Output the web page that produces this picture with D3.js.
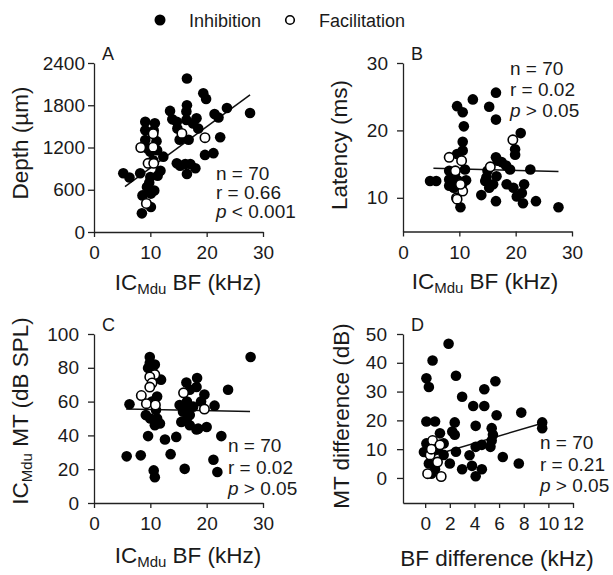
<!DOCTYPE html>
<html>
<head>
<meta charset="utf-8">
<script src="https://cdn.jsdelivr.net/npm/d3@7"></script>
<style>
	body { margin: 0; background: #fff; }
	svg text { font-family: "Liberation Sans", Arial, sans-serif; fill: #1a1a1a; }
	.axis path, .axis line { stroke: #222; stroke-width: 1.3; }
	.axis text { font-size: 19px; }
</style>
</head>
<body>
<svg id="graphic" width="613" height="575"></svg>
<script>
// Panel A: IC_Mdu BF (kHz) vs depth (um)
const aInhibition = [
	[16.5, 2180], [19.4, 1970], [19.9, 1890], [13.5, 1720], [16.5, 1800], [16.4, 1710], [23.6, 1760], [27.7, 1690],
	[21.4, 1675], [22.1, 1625], [18.2, 1615], [14.7, 1565], [16.4, 1590], [18.5, 1470], [14.8, 1470], [16.8, 1310],
	[15.2, 1310], [22.4, 1345], [19.7, 1095], [21.2, 1120], [14.7, 975], [15.3, 940], [16.2, 965], [17.1, 965],
	[18.0, 905], [16.5, 825], [12.3, 1070], [17.6, 1540], [13.9, 1600],
	[9.1, 1565], [10.8, 1545], [9.1, 1445], [10.6, 1440], [9.1, 1305], [11.1, 1290], [9.4, 1190], [11.2, 1160],
	[10.0, 1140], [11.8, 870], [11.3, 800], [10.0, 780], [9.4, 640], [10.7, 590], [10.1, 545], [8.6, 520],
	[10.1, 355], [8.5, 265], [8.2, 835], [5.2, 835], [6.3, 775], [10.5, 1020], [9.8, 700]
];
const aFacilitation = [
	[8.3, 1200], [10.5, 1395], [10.5, 1205], [9.6, 975], [10.6, 975], [9.3, 405], [15.6, 1400], [19.7, 1340]
];
const aFit = [[5.5, 644], [27.7, 1946]];

// Panel B: IC_Mdu BF (kHz) vs latency (ms)
const bInhibition = [
	[9.6, 23.6], [10.6, 22.7], [12.4, 24.6], [15.3, 23.5], [16.5, 25.6], [16.5, 21.6], [10.8, 20.6], [20.9, 19.6],
	[19.9, 17.2], [19.9, 16.4], [10.6, 18.3], [10.6, 17.0], [9.6, 16.5], [16.5, 16.0], [16.8, 15.5], [17.5, 15.3],
	[18.3, 14.8], [22.6, 14.2], [19.0, 14.2], [8.2, 14.0], [9.2, 13.5], [4.8, 12.5], [5.9, 12.5], [8.2, 12.7],
	[8.8, 12.2], [8.2, 11.8], [9.7, 12.6], [10.5, 12.0], [11.2, 12.6], [9.0, 11.5], [10.2, 8.6], [13.9, 10.4],
	[14.6, 12.5], [15.3, 11.5], [16.0, 12.0], [14.8, 13.0], [16.6, 13.2], [16.5, 9.5], [18.4, 12.0], [19.6, 11.5],
	[21.1, 10.7], [20.2, 10.2], [21.3, 9.2], [21.5, 12.0], [23.6, 9.5], [27.6, 8.6], [11.0, 14.2], [15.0, 14.0]
];
const bFacilitation = [
	[19.5, 18.6], [8.2, 16.0], [10.4, 15.5], [15.5, 14.6], [9.5, 10.0], [9.6, 9.8], [10.6, 11.0], [10.2, 12.0], [9.3, 14.0]
];
const bFit = [[5.4, 14.4], [27.6, 13.9]];

// Panel C: IC_Mdu BF (kHz) vs IC_Mdu MT (dB SPL)
const cInhibition = [
	[27.8, 86.4], [9.9, 86.4], [9.9, 82.8], [10.8, 81.9], [9.6, 79.9], [10.4, 77.9], [11.9, 73], [18.3, 74],
	[16.4, 71.3], [18.2, 68.6], [17.0, 67], [23.8, 67], [19.6, 64.2], [21.4, 57.6], [11.2, 63], [6.3, 58.4],
	[9.2, 52], [10.0, 50], [11.2, 50], [10.8, 46], [11.7, 47], [15.2, 58], [15.8, 54], [17.0, 52],
	[16.4, 49], [15.5, 48], [17.0, 46], [18.2, 43.5], [18.5, 44], [20.0, 45], [9.6, 39.6], [12.6, 37.6],
	[14.6, 39.1], [22.6, 39.6], [5.8, 27.6], [8.3, 28.2], [13.6, 28.9], [21.2, 25.6], [16.1, 20.2], [21.9, 18.3],
	[10.6, 19.3], [10.8, 15.3], [11.0, 55], [10.3, 60], [16.5, 60], [17.6, 57], [19.0, 60], [16.0, 56]
];
const cFacilitation = [
	[10.8, 76], [9.9, 74.6], [10.3, 71], [9.9, 68.6], [15.9, 65.2], [19.6, 55.6], [8.4, 63.6], [9.3, 58.8], [10.9, 58]
];
const cFit = [[5.7, 55.6], [27.7, 54.2]];

// Panel D: BF difference (kHz) vs MT difference (dB)
const dInhibition = [
	[1.9, 46.6], [0.6, 40.8], [0.1, 34.6], [0.3, 31.6], [2.5, 35.5], [5.7, 33.6], [4.8, 30.8], [3.0, 28.2],
	[3.9, 25], [4.8, 25], [7.8, 22.7], [5.8, 21.8], [0.1, 19.6], [0.8, 19.6], [2.4, 19.3], [4.1, 18.1],
	[5.4, 17.3], [5.5, 15], [9.5, 19.3], [9.5, 17.3], [1.2, 15.5], [2.2, 16.1], [2.4, 15], [5.4, 13],
	[4.6, 11.5], [4.1, 10.8], [5.3, 10.8], [2.5, 9.1], [3.6, 7.9], [6.3, 7.3], [7.6, 5.0], [2.0, 5.0],
	[3.0, 3.0], [3.8, 4.2], [4.6, 3.0], [4.1, 0.6], [0.1, 12], [-0.1, 9], [0.3, 5], [0.8, 3],
	[0.5, 1.5], [1.5, 12], [1.0, 10], [1.5, 8]
];
const dFacilitation = [
	[0.6, 13], [1.2, 11.5], [0.4, 8], [1.0, 5.5], [0.2, 1.5], [1.3, 0.5], [0.5, 10]
];
const dFit = [[0.7, 7.9], [9.5, 19.0]];

const panels = [
	{
		letter: 'A', inh: aInhibition, fac: aFacilitation, fit: aFit,
		xDomain: [0, 30], yDomain: [0, 2400], xRange: [94, 263], yRange: [232, 63],
		xTicks: [0, 10, 20, 30], yTicks: [0, 600, 1200, 1800, 2400], yPad: 3,
		stats: ['n = 70', 'r = 0.66', '< 0.001'], statX: 216, statY: 180, statGap: 19,
		yTitle: 'Depth (\u00b5m)', yTitleX: 28, yTitleY: 143,
		xTitle: 'bf', xTitleX: 188, xTitleY: 290
	},
	{
		letter: 'B', inh: bInhibition, fac: bFacilitation, fit: bFit,
		xDomain: [0, 30], yDomain: [5, 30], xRange: [403, 572], yRange: [231.5, 63],
		xTicks: [0, 10, 20, 30], yTicks: [10, 20, 30], yPad: 9,
		stats: ['n = 70', 'r = 0.02', '> 0.05'], statX: 510, statY: 75, statGap: 21,
		yTitle: 'Latency (ms)', yTitleX: 347, yTitleY: 145,
		xTitle: 'bf', xTitleX: 485, xTitleY: 289
	},
	{
		letter: 'C', inh: cInhibition, fac: cFacilitation, fit: cFit,
		xDomain: [0, 30], yDomain: [0, 100], xRange: [94, 263], yRange: [503, 334],
		xTicks: [0, 10, 20, 30], yTicks: [0, 20, 40, 60, 80, 100], yPad: 9,
		stats: ['n = 70', 'r = 0.02', '> 0.05'], statX: 228, statY: 452, statGap: 21.5,
		yTitle: 'mt', yTitleX: 28, yTitleY: 411,
		xTitle: 'bf', xTitleX: 188, xTitleY: 563
	},
	{
		letter: 'D', inh: dInhibition, fac: dFacilitation, fit: dFit,
		xDomain: [-1.8, 12], yDomain: [-8.7, 50], xRange: [403, 573], yRange: [503, 334],
		xTicks: [0, 2, 4, 6, 8, 10, 12], yTicks: [0, 10, 20, 30, 40, 50], yPad: 10,
		stats: ['n = 70', 'r = 0.21', '> 0.05'], statX: 540, statY: 449, statGap: 21.5,
		yTitle: 'MT difference (dB)', yTitleX: 349, yTitleY: 416,
		xTitle: 'BF difference (kHz)', xTitleX: 497, xTitleY: 566
	}
];

const svg = d3.select('#graphic');
const radius = 5.3;
const plain = d3.format('d');

// "IC" with subscript "Mdu" followed by the rest
function icMdu(textSel, rest) {
	textSel.append('tspan').text('IC');
	textSel.append('tspan').attr('font-size', '15px').attr('dy', 4).text('Mdu');
	textSel.append('tspan').attr('dy', -4).text(rest);
}

panels.forEach((p) => {
	const x = d3.scaleLinear().domain(p.xDomain).range(p.xRange);
	const y = d3.scaleLinear().domain(p.yDomain).range(p.yRange);
	const g = svg.append('g');

	g.append('g')
		.attr('class', 'axis')
		.attr('transform', `translate(0,${p.yRange[0]})`)
		.call(d3.axisBottom(x).tickValues(p.xTicks).tickFormat(plain).tickSize(5).tickSizeOuter(0).tickPadding(9));

	g.append('g')
		.attr('class', 'axis')
		.attr('transform', `translate(${p.xRange[0]},0)`)
		.call(d3.axisLeft(y).tickValues(p.yTicks).tickFormat(plain).tickSize(6).tickSizeOuter(0).tickPadding(p.yPad));

	// regression line
	g.append('path')
		.datum(p.fit)
		.attr('fill', 'none')
		.attr('stroke', '#111')
		.attr('stroke-width', 1.5)
		.attr('d', d3.line().x((d) => x(d[0])).y((d) => y(d[1])));

	g.selectAll('circle.inh')
		.data(p.inh)
		.join('circle')
		.attr('class', 'inh')
		.attr('cx', (d) => x(d[0]))
		.attr('cy', (d) => y(d[1]))
		.attr('r', radius)
		.attr('fill', '#000');

	g.selectAll('circle.fac')
		.data(p.fac)
		.join('circle')
		.attr('class', 'fac')
		.attr('cx', (d) => x(d[0]))
		.attr('cy', (d) => y(d[1]))
		.attr('r', radius - 0.6)
		.attr('fill', '#fff')
		.attr('stroke', '#000')
		.attr('stroke-width', 1.6);

	// panel letter
	g.append('text')
		.attr('x', p.xRange[0] + 8)
		.attr('y', p.yRange[1] - 3)
		.attr('font-size', '18px')
		.text(p.letter);

	// stats
	p.stats.forEach((s, i) => {
		const t = g.append('text')
			.attr('x', p.statX)
			.attr('y', p.statY + i * p.statGap)
			.attr('font-size', '19px');
		if (i === 2) {
			t.append('tspan').attr('font-style', 'italic').text('p');
			t.append('tspan').text(' ' + s);
		} else {
			t.text(s);
		}
	});

	// y title
	const yt = g.append('text')
		.attr('transform', `translate(${p.yTitleX},${p.yTitleY}) rotate(-90)`)
		.attr('text-anchor', 'middle')
		.attr('font-size', '22.5px');
	if (p.yTitle === 'mt') icMdu(yt, ' MT (dB SPL)');
	else yt.text(p.yTitle);

	// x title
	const xt = g.append('text')
		.attr('x', p.xTitleX)
		.attr('y', p.xTitleY)
		.attr('text-anchor', 'middle')
		.attr('font-size', '22.5px');
	if (p.xTitle === 'bf') icMdu(xt, ' BF (kHz)');
	else xt.text(p.xTitle);
});

// legend
const legend = svg.append('g');
legend.append('circle').attr('cx', 160).attr('cy', 20).attr('r', 5.5).attr('fill', '#000');
legend.append('text').attr('x', 189).attr('y', 27).attr('font-size', '18px').text('Inhibition');
legend.append('circle').attr('cx', 290).attr('cy', 20).attr('r', 4.3)
	.attr('fill', '#fff').attr('stroke', '#000').attr('stroke-width', 1.6);
legend.append('text').attr('x', 319).attr('y', 27).attr('font-size', '18px').text('Facilitation');
</script>
</body>
</html>
